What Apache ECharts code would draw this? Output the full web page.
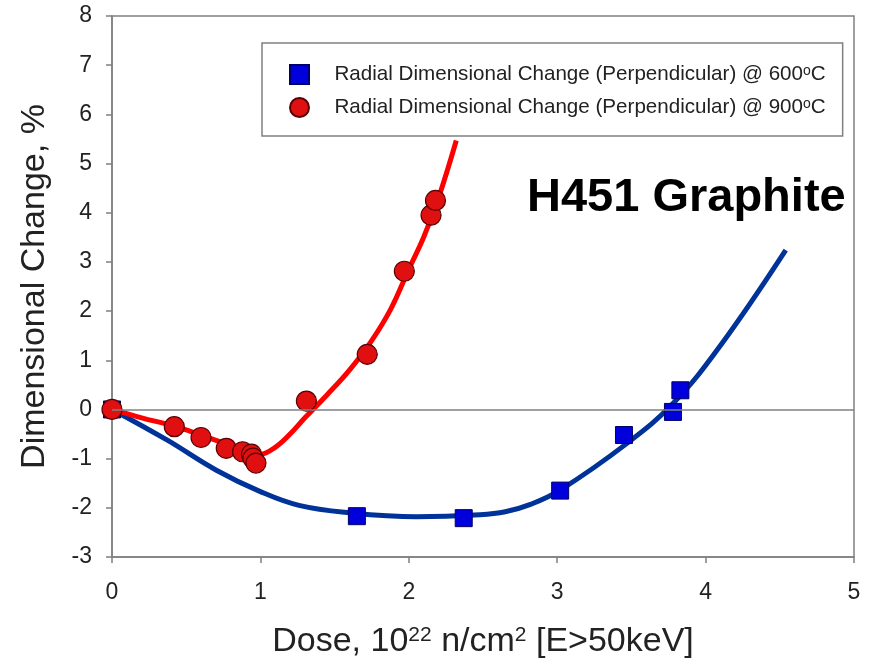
<!DOCTYPE html>
<html>
<head>
<meta charset="utf-8">
<script src="https://cdn.jsdelivr.net/npm/echarts@6/dist/echarts.min.js"></script>
<style>html,body{margin:0;padding:0;background:#fff}#c{width:874px;height:672px}</style>
</head>
<body>
<div id="c"></div>
<script>
// measured points
const dose600 = [0, 1.65, 2.37, 3.02, 3.45, 3.78, 3.83];
const change600 = [0, -2.17, -2.21, -1.65, -0.52, -0.05, 0.39];
const dose900 = [0, 0.42, 0.60, 0.77, 0.88, 0.94, 0.95, 0.97, 1.31, 1.72, 1.97, 2.15, 2.18];
const change900 = [0, -0.35, -0.57, -0.79, -0.86, -0.91, -0.99, -1.09, 0.17, 1.12, 2.81, 3.95, 4.25];
// fitted curves
const fitDose600 = [0, 0.37, 0.70, 1.0, 1.26, 1.60, 2.05, 2.48, 2.65, 2.82, 3.02, 3.47, 3.78, 4.10, 4.54];
const fitChange600 = [0, -0.62, -1.23, -1.67, -1.95, -2.10, -2.18, -2.14, -2.08, -1.93, -1.64, -0.69, 0.12, 1.30, 3.24];
const fitDose900 = [0, 0.2, 0.42, 0.6, 0.77, 0.9, 1.0, 1.1, 1.2, 1.3, 1.45, 1.6, 1.75, 1.88, 2.0, 2.1, 2.2, 2.32];
const fitChange900 = [0, -0.17, -0.34, -0.52, -0.70, -0.83, -0.91, -0.77, -0.50, -0.17, 0.30, 0.80, 1.40, 2.05, 2.85, 3.50, 4.30, 5.47];
const seriesNames = ['Radial Dimensional Change (Perpendicular) @ 600{sup|o}C', 'Radial Dimensional Change (Perpendicular) @ 900{sup|o}C'];
const xTicks = [0, 1, 2, 3, 4, 5];
const yTicks = [-3, -2, -1, 0, 1, 2, 3, 4, 5, 6, 7, 8];

const zip = (a, b) => a.map((v, i) => [v, b[i]]);
const FONT = 'Liberation Sans, Arial, sans-serif';

const chart = echarts.init(document.getElementById('c'), null, {renderer: 'canvas'});
chart.setOption({
  animation: false,
  backgroundColor: '#fff',
  textStyle: {fontFamily: FONT},
  grid: {left: 112, right: 20, top: 16, bottom: 115, show: true, borderColor: '#808080', borderWidth: 1.5, containLabel: false},
  xAxis: {
    type: 'value', min: xTicks[0], max: xTicks[xTicks.length - 1], interval: 1,
    axisLine: {show: true, onZero: false, lineStyle: {color: '#808080', width: 1.5}},
    axisTick: {show: true, inside: false, length: 6, lineStyle: {color: '#808080', width: 1.5}},
    splitLine: {show: false},
    axisLabel: {fontSize: 23, color: '#222', margin: 24, fontFamily: FONT},
    name: 'Dose, 10{sup|22} n/cm{sup|2} [E>50keV]',
    nameLocation: 'middle', nameGap: 68,
    nameTextStyle: {fontSize: 34, color: '#222', fontFamily: FONT, lineHeight: 34,
      rich: {sup: {fontSize: 21, verticalAlign: 'top', lineHeight: 18, color: '#222', fontFamily: FONT}}}
  },
  yAxis: {
    type: 'value', min: yTicks[0], max: yTicks[yTicks.length - 1], interval: 1,
    axisLine: {show: true, onZero: false, lineStyle: {color: '#808080', width: 1.5}},
    axisTick: {show: true, inside: false, length: 6, lineStyle: {color: '#808080', width: 1.5}},
    splitLine: {show: false},
    axisLabel: {fontSize: 23, color: '#222', margin: 20, fontFamily: FONT},
    name: 'Dimensional Change, %',
    nameLocation: 'middle', nameGap: 60, nameRotate: 90,
    nameTextStyle: {fontSize: 34, color: '#222', fontFamily: FONT}
  },
  legend: {
    orient: 'vertical', left: 262, top: 43,
    padding: [21, 17, 18, 27],
    itemGap: 12, itemWidth: 20, itemHeight: 19,
    backgroundColor: '#fff', borderColor: '#808080', borderWidth: 1.5,
    textStyle: {fontSize: 20.6, color: '#222', fontFamily: FONT, lineHeight: 20, padding: [0, 0, 0, 20],
      rich: {sup: {fontSize: 14, verticalAlign: 'top', lineHeight: 10, color: '#222', fontFamily: FONT}}},
    data: [
      {name: seriesNames[0], icon: 'path://M0,0L10,0L10,10L0,10Z'},
      {name: seriesNames[1], icon: 'circle'}
    ]
  },
  graphic: [{
    type: 'text', left: 527, top: 175, z: 10,
    style: {text: 'H451 Graphite', font: 'bold 47px ' + FONT, fill: '#000'}
  }],
  series: [
    {
      type: 'line', data: [], silent: true, z: 1,
      markLine: {silent: true, symbol: ['none', 'none'], label: {show: false},
        lineStyle: {color: '#808080', width: 1.5, type: 'solid'}, data: [{yAxis: 0}]}
    },
    {
      type: 'line', name: 'fit600', data: zip(fitDose600, fitChange600), smooth: 0.4,
      showSymbol: false, symbol: 'none', lineStyle: {color: '#003399', width: 5}, z: 2
    },
    {
      type: 'line', name: 'fit900', data: zip(fitDose900, fitChange900), smooth: 0.4,
      showSymbol: false, symbol: 'none', lineStyle: {color: '#ff0000', width: 5}, z: 2
    },
    {
      type: 'scatter', name: seriesNames[0], data: zip(dose600, change600),
      symbol: 'rect', symbolSize: 17,
      itemStyle: {color: '#0000dd', borderColor: '#000066', borderWidth: 1, opacity: 1}, z: 3
    },
    {
      type: 'scatter', name: seriesNames[1], data: zip(dose900, change900),
      symbol: 'circle', symbolSize: 20,
      itemStyle: {color: '#e01010', borderColor: '#5a0000', borderWidth: 1.2, opacity: 1}, z: 4
    }
  ]
});
</script>
</body>
</html>
